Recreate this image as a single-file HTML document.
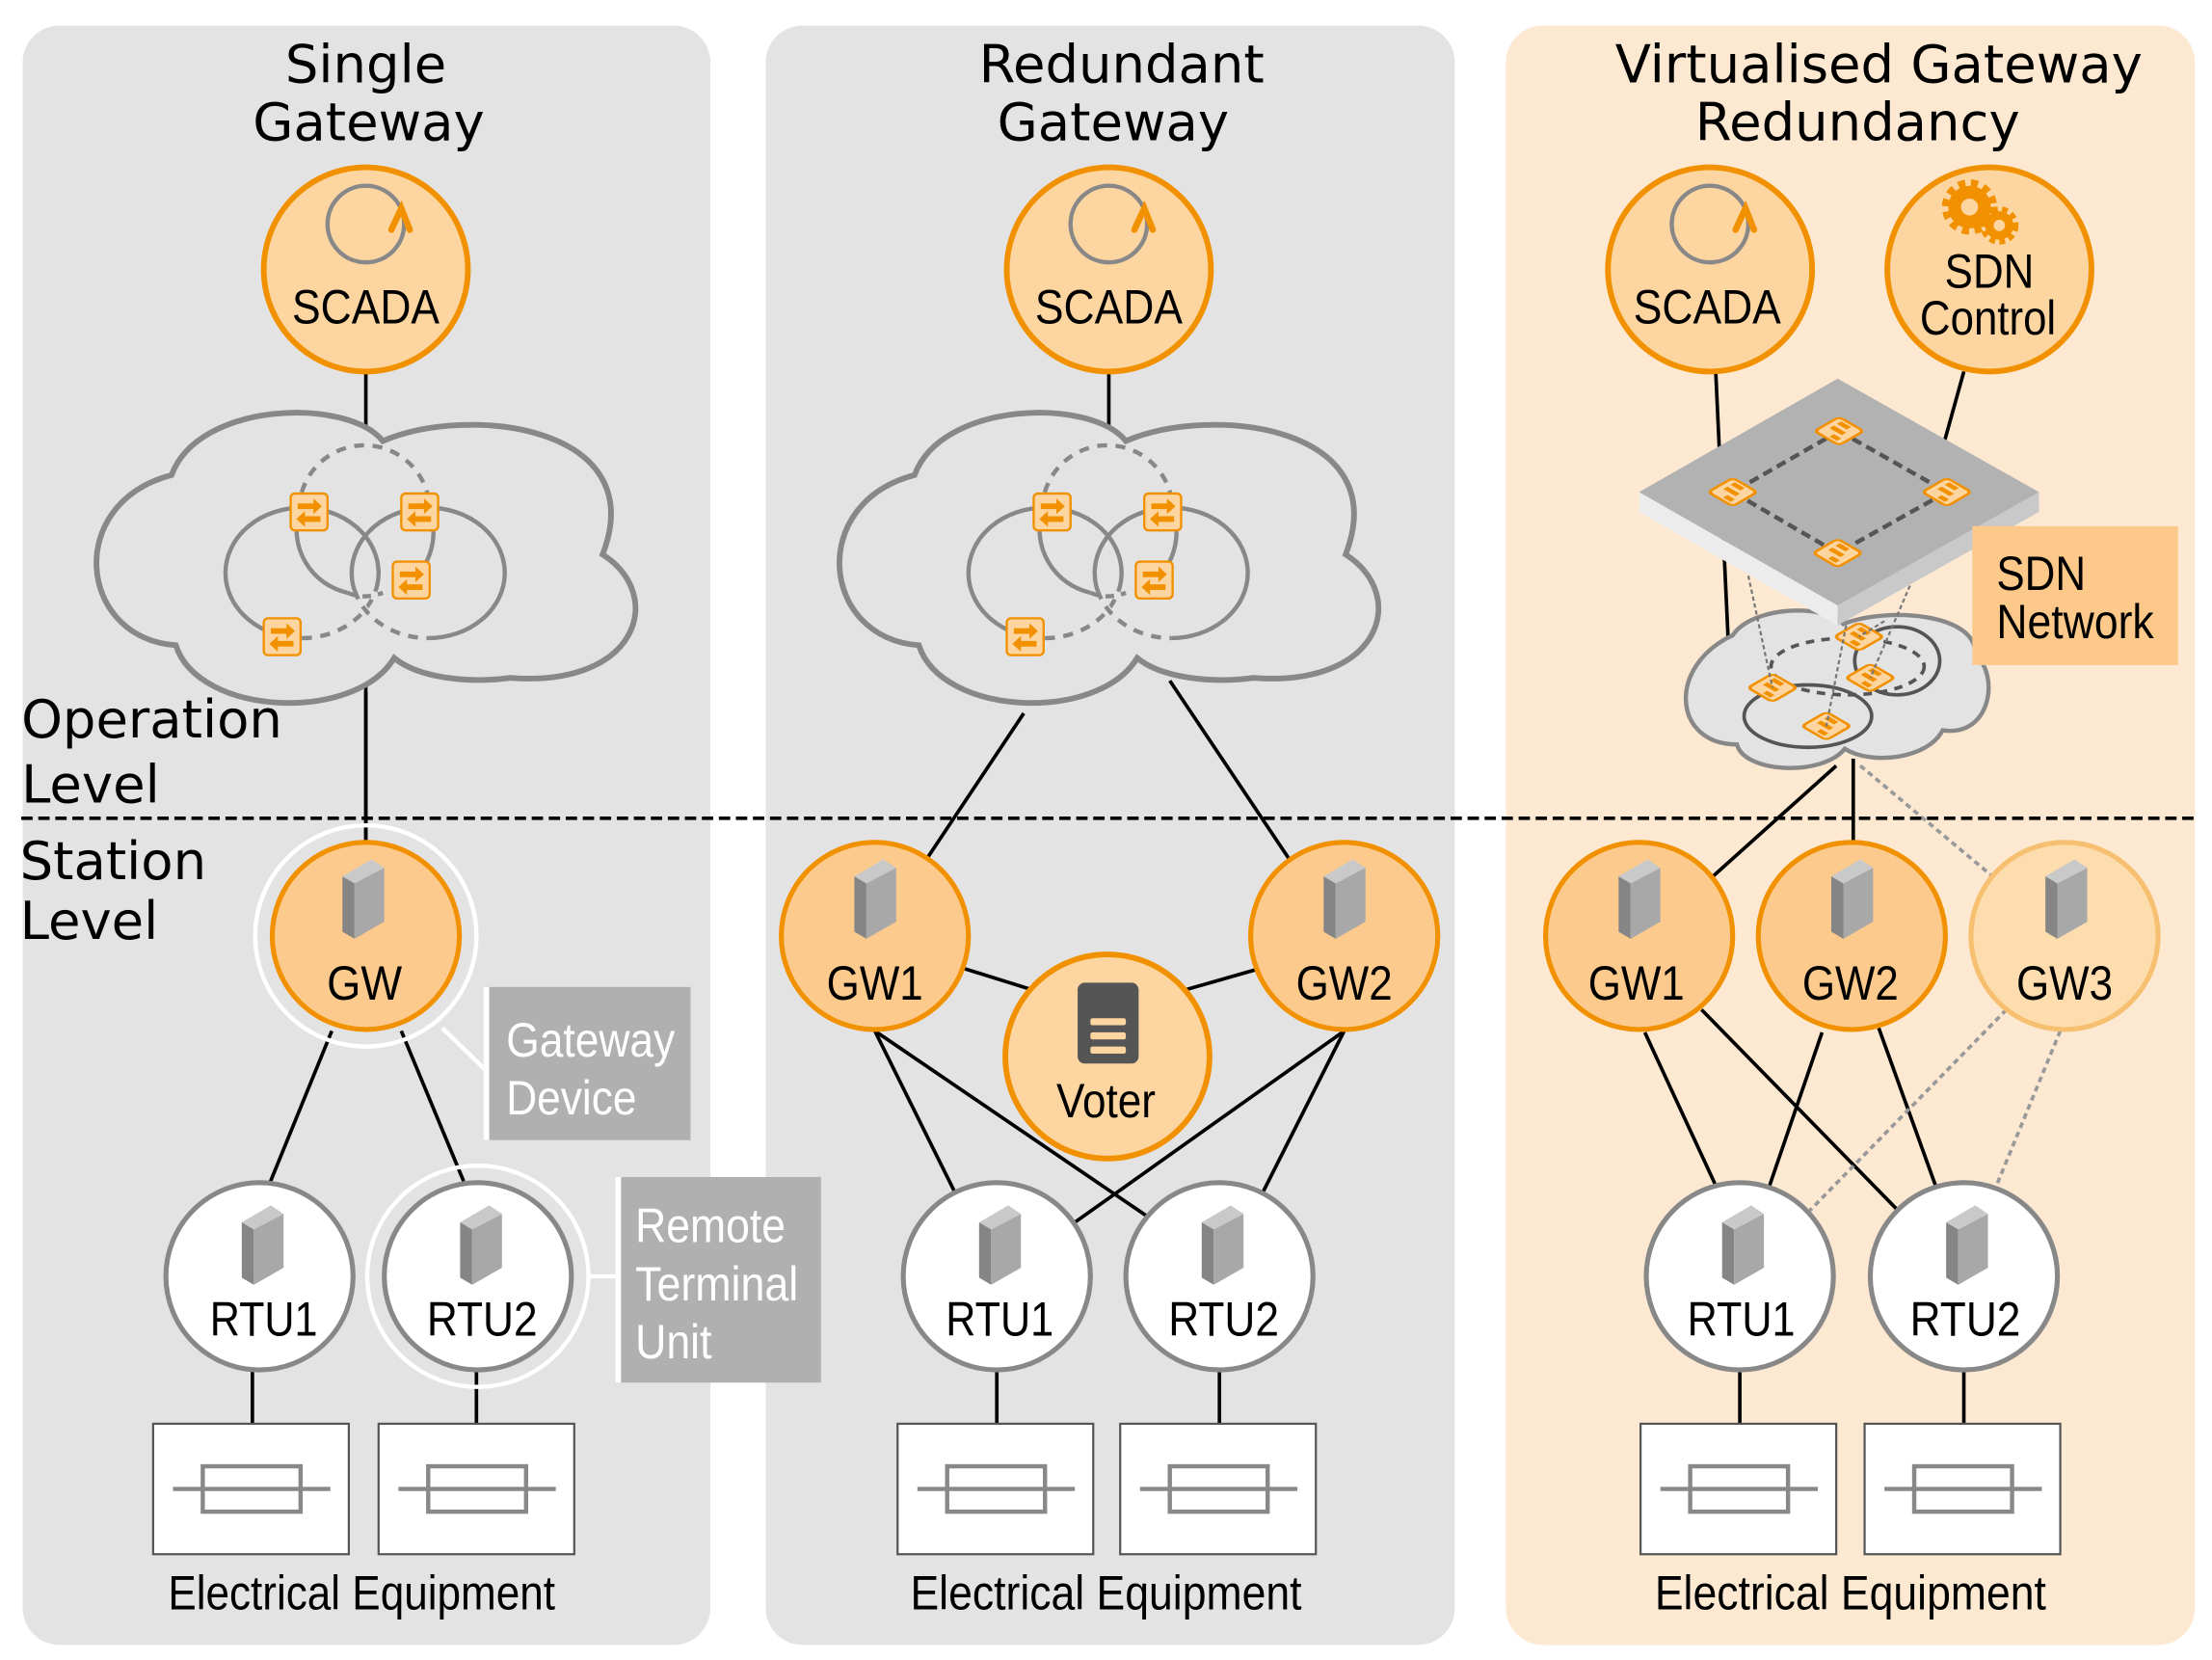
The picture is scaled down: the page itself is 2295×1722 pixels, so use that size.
<!DOCTYPE html>
<html><head><meta charset="utf-8">
<style>
html,body{margin:0;padding:0;background:#fff;}
svg{display:block;}
.t{font-family:"DejaVu Sans","Liberation Sans",sans-serif;font-size:37px;fill:#000;}
.n{font-family:"Liberation Sans Narrow","Liberation Sans",sans-serif;font-size:34px;fill:#000;}
.w{font-family:"Liberation Sans Narrow","Liberation Sans",sans-serif;font-size:34px;fill:#fff;}
</style></head><body>
<svg width="2295" height="1722" viewBox="0 0 1560 1170.6" preserveAspectRatio="none" xmlns="http://www.w3.org/2000/svg">
<defs>
  <g id="srv">
    <polygon points="-14.5,-16 6,-28 15,-22 -6,-11" fill="#c9c9c9"/>
    <polygon points="-14.5,-16 -6,-11 -6,28 -14.5,23" fill="#858585"/>
    <polygon points="-6,-11 15,-22 15,16 -6,28" fill="#a8a8a8"/>
  </g>
  <g id="sw">
    <rect x="-13" y="-13" width="26" height="26" rx="3" fill="#fdd5a0" stroke="#f29100" stroke-width="1.6"/>
    <path d="M-8,-6 H3 V-9.5 L9,-4 L3,1.5 V-2 H-8 Z" fill="#f29100"/>
    <path d="M8,3 H-3 V-0.5 L-9,5 L-3,10.5 V7 H8 Z" fill="#f29100"/>
  </g>
  <g id="dsw">
    <g transform="matrix(0.866,0.5,-0.866,0.5,0,0)">
      <rect x="-10" y="-10" width="20" height="20" rx="3" fill="#fdd5a0" stroke="#f29100" stroke-width="2"/>
      <path d="M-6,-6 H2 M-6,0 H4 M0,6 H6" stroke="#f29100" stroke-width="3.5"/>
    </g>
  </g>
  <g id="eq">
    <rect x="0" y="0" width="138" height="92" fill="#fff" stroke="#555" stroke-width="1.5"/>
    <line x1="14" y1="46" x2="125" y2="46" stroke="#888" stroke-width="3"/>
    <rect x="35" y="30" width="69" height="32" fill="none" stroke="#888" stroke-width="3"/>
  </g>
  <g id="scadaicon">
    <circle cx="0" cy="-32" r="27" fill="none" stroke="#888" stroke-width="3"/>
    <path d="M18,-28 L25,-43 L31,-28" fill="none" stroke="#f29100" stroke-width="4.5" stroke-linecap="round"/>
  </g>
  <path id="cloudp" d="M121,335 C140,283 245,280 270,311 C330,285 460,300 425,391 C470,420 450,485 360,478 C330,482 295,478 278,464 C250,510 140,505 124,455 C55,450 45,355 121,335 Z"/>
  <g id="cloudinner">
    <ellipse cx="213" cy="404" rx="54" ry="46" fill="none" stroke="#888" stroke-width="3"/>
    <path d="M213,450 A54,46 0 0 0 265,416" fill="none" stroke="#e3e3e3" stroke-width="5"/>
    <path d="M213,450 A54,46 0 0 0 265,416" fill="none" stroke="#888" stroke-width="3" stroke-dasharray="7,6"/>
    <ellipse cx="302" cy="404" rx="54" ry="46" fill="none" stroke="#888" stroke-width="3"/>
    <path d="M250,416 A54,46 0 0 0 302,450" fill="none" stroke="#e3e3e3" stroke-width="5"/>
    <path d="M250,416 A54,46 0 0 0 302,450" fill="none" stroke="#888" stroke-width="3" stroke-dasharray="7,6"/>
    <path d="M211,360 A46,46 0 0 1 303,360" fill="none" stroke="#888" stroke-width="3" stroke-dasharray="7,6"/>
    <path d="M211,360 A46,46 0 0 0 245,418" fill="none" stroke="#888" stroke-width="3"/>
    <path d="M303,360 A46,46 0 0 1 290,410" fill="none" stroke="#888" stroke-width="3"/>
    <path d="M245,418 Q257,423 270,418" fill="none" stroke="#888" stroke-width="3" stroke-dasharray="6,5"/>
    <use href="#sw" x="218" y="361"/>
    <use href="#sw" x="296" y="361"/>
    <use href="#sw" x="290" y="409"/>
    <use href="#sw" x="199" y="449"/>
  </g>
</defs>

<rect x="16" y="18" width="485" height="1142" rx="26" fill="#e3e3e3"/>
<rect x="540" y="18" width="486" height="1142" rx="26" fill="#e3e3e3"/>
<rect x="1062" y="18" width="486" height="1142" rx="26" fill="#fde9d2"/>

<text class="t" x="258" y="58" text-anchor="middle">Single</text>
<text class="t" x="260" y="99" text-anchor="middle">Gateway</text>
<text class="t" x="791" y="58" text-anchor="middle">Redundant</text>
<text class="t" x="785" y="99" text-anchor="middle">Gateway</text>
<text class="t" x="1325" y="58" text-anchor="middle">Virtualised Gateway</text>
<text class="t" x="1310" y="99" text-anchor="middle">Redundancy</text>

<text class="t" x="15" y="520">Operation</text>
<text class="t" x="15" y="566">Level</text>
<text class="t" x="14" y="620">Station</text>
<text class="t" x="14" y="662">Level</text>

<!-- Panel 1 -->
<line x1="258" y1="262" x2="258" y2="600" stroke="#000" stroke-width="2.5"/>
<use href="#cloudp" fill="#e3e3e3" stroke="#888" stroke-width="4"/>
<use href="#cloudinner"/>
<line x1="258" y1="488" x2="258" y2="600" stroke="#000" stroke-width="2.5"/>

<circle cx="258" cy="190" r="72" fill="#fdd5a0" stroke="#f29100" stroke-width="4"/>
<use href="#scadaicon" x="258" y="190"/>
<text class="n" x="258" y="228" text-anchor="middle" textLength="104" lengthAdjust="spacingAndGlyphs">SCADA</text>

<line x1="234" y1="727" x2="190" y2="835" stroke="#000" stroke-width="2.5"/>
<line x1="283" y1="727" x2="327" y2="833" stroke="#000" stroke-width="2.5"/>
<line x1="178" y1="966" x2="178" y2="1008" stroke="#000" stroke-width="2.5"/>
<line x1="336" y1="966" x2="336" y2="1008" stroke="#000" stroke-width="2.5"/>

<circle cx="258" cy="660" r="78" fill="none" stroke="#fff" stroke-width="3"/>
<line x1="312" y1="725" x2="344" y2="756" stroke="#fff" stroke-width="3"/>
<circle cx="258" cy="660" r="66" fill="#fcca8c" stroke="#f29100" stroke-width="3.5"/>
<use href="#srv" x="256" y="634"/>
<text class="n" x="257" y="705" text-anchor="middle" textLength="53" lengthAdjust="spacingAndGlyphs">GW</text>
<rect x="341" y="696" width="146" height="108" fill="#b0b0b0"/>
<rect x="341" y="696" width="4" height="108" fill="#fff"/>
<text class="w" x="357" y="745" textLength="119" lengthAdjust="spacingAndGlyphs">Gateway</text>
<text class="w" x="357" y="786" textLength="92" lengthAdjust="spacingAndGlyphs">Device</text>

<circle cx="183" cy="900" r="66" fill="#fff" stroke="#888" stroke-width="3.5"/>
<use href="#srv" x="185" y="878"/>
<text class="n" x="186" y="942" text-anchor="middle" textLength="76" lengthAdjust="spacingAndGlyphs">RTU1</text>
<circle cx="337" cy="900" r="78" fill="none" stroke="#fff" stroke-width="3"/>
<line x1="414" y1="900" x2="436" y2="900" stroke="#fff" stroke-width="3"/>
<circle cx="337" cy="900" r="66" fill="#fff" stroke="#888" stroke-width="3.5"/>
<use href="#srv" x="339" y="878"/>
<text class="n" x="340" y="942" text-anchor="middle" textLength="78" lengthAdjust="spacingAndGlyphs">RTU2</text>
<rect x="434" y="830" width="145" height="145" fill="#b0b0b0"/>
<rect x="434" y="830" width="4" height="145" fill="#fff"/>
<text class="w" x="448" y="876" textLength="106" lengthAdjust="spacingAndGlyphs">Remote</text>
<text class="w" x="448" y="917" textLength="115" lengthAdjust="spacingAndGlyphs">Terminal</text>
<text class="w" x="448" y="958" textLength="54" lengthAdjust="spacingAndGlyphs">Unit</text>

<use href="#eq" x="108" y="1004"/>
<use href="#eq" x="267" y="1004"/>
<text class="n" x="255" y="1135" text-anchor="middle" textLength="273" lengthAdjust="spacingAndGlyphs">Electrical Equipment</text>

<!-- Panel 2 -->
<line x1="782" y1="262" x2="782" y2="310" stroke="#000" stroke-width="2.5"/>
<g transform="translate(524,0)">
  <use href="#cloudp" fill="#e3e3e3" stroke="#888" stroke-width="4"/>
  <use href="#cloudinner"/>
</g>
<circle cx="782" cy="190" r="72" fill="#fdd5a0" stroke="#f29100" stroke-width="4"/>
<use href="#scadaicon" x="782" y="190"/>
<text class="n" x="782" y="228" text-anchor="middle" textLength="104" lengthAdjust="spacingAndGlyphs">SCADA</text>

<line x1="722" y1="503" x2="654" y2="605" stroke="#000" stroke-width="2.5"/>
<line x1="825" y1="480" x2="910" y2="607" stroke="#000" stroke-width="2.5"/>
<line x1="680" y1="683" x2="728" y2="698" stroke="#000" stroke-width="2.5"/>
<line x1="836" y1="698" x2="885" y2="684" stroke="#000" stroke-width="2.5"/>
<line x1="617" y1="727" x2="674" y2="842" stroke="#000" stroke-width="2.5"/>
<line x1="617" y1="727" x2="808" y2="857" stroke="#000" stroke-width="2.5"/>
<line x1="948" y1="727" x2="758" y2="862" stroke="#000" stroke-width="2.5"/>
<line x1="948" y1="727" x2="890" y2="842" stroke="#000" stroke-width="2.5"/>
<line x1="703" y1="966" x2="703" y2="1008" stroke="#000" stroke-width="2.5"/>
<line x1="860" y1="966" x2="860" y2="1008" stroke="#000" stroke-width="2.5"/>

<circle cx="617" cy="660" r="66" fill="#fcca8c" stroke="#f29100" stroke-width="3.5"/>
<use href="#srv" x="617" y="634"/>
<text class="n" x="617" y="705" text-anchor="middle" textLength="68" lengthAdjust="spacingAndGlyphs">GW1</text>
<circle cx="948" cy="660" r="66" fill="#fcca8c" stroke="#f29100" stroke-width="3.5"/>
<use href="#srv" x="948" y="634"/>
<text class="n" x="948" y="705" text-anchor="middle" textLength="68" lengthAdjust="spacingAndGlyphs">GW2</text>
<circle cx="781" cy="745" r="72" fill="#fdd5a0" stroke="#f29100" stroke-width="4"/>
<rect x="760" y="693" width="43" height="57" rx="5" fill="#555"/>
<rect x="769" y="718" width="25" height="5" rx="1.5" fill="#fdd5a0"/>
<rect x="769" y="728" width="25" height="5" rx="1.5" fill="#fdd5a0"/>
<rect x="769" y="738" width="25" height="5" rx="1.5" fill="#fdd5a0"/>
<text class="n" x="780" y="788" text-anchor="middle" textLength="70" lengthAdjust="spacingAndGlyphs">Voter</text>

<circle cx="703" cy="900" r="66" fill="#fff" stroke="#888" stroke-width="3.5"/>
<use href="#srv" x="705" y="878"/>
<text class="n" x="705" y="942" text-anchor="middle" textLength="76" lengthAdjust="spacingAndGlyphs">RTU1</text>
<circle cx="860" cy="900" r="66" fill="#fff" stroke="#888" stroke-width="3.5"/>
<use href="#srv" x="862" y="878"/>
<text class="n" x="863" y="942" text-anchor="middle" textLength="78" lengthAdjust="spacingAndGlyphs">RTU2</text>
<use href="#eq" x="633" y="1004"/>
<use href="#eq" x="790" y="1004"/>
<text class="n" x="780" y="1135" text-anchor="middle" textLength="276" lengthAdjust="spacingAndGlyphs">Electrical Equipment</text>

<!-- Panel 3 -->
<line x1="1210" y1="262" x2="1219" y2="456" stroke="#000" stroke-width="2.5"/>
<line x1="1385" y1="262" x2="1370" y2="316" stroke="#000" stroke-width="2.5"/>

<path d="M1222,448 C1235,428 1285,425 1300,440 C1330,428 1395,432 1393,462 C1410,475 1405,520 1370,515 C1360,535 1320,540 1301,528 C1285,548 1230,545 1225,525 C1180,525 1175,470 1222,448 Z" fill="#e3e3e3" stroke="#888" stroke-width="3"/>
<ellipse cx="1275" cy="505" rx="45" ry="22" fill="none" stroke="#555" stroke-width="2.5"/>
<ellipse cx="1338" cy="466" rx="30" ry="24" fill="none" stroke="#555" stroke-width="2.5"/>
<ellipse cx="1303" cy="470" rx="54" ry="20" fill="none" stroke="#555" stroke-width="2.5" stroke-dasharray="6,5"/>
<use href="#dsw" x="1250" y="485"/>
<use href="#dsw" x="1311" y="449"/>
<use href="#dsw" x="1319" y="478"/>
<use href="#dsw" x="1288" y="512"/>

<polygon points="1156,347 1296,427 1296,441 1156,361" fill="#ececec"/>
<polygon points="1296,427 1438,347 1438,361 1296,441" fill="#c9c9c9"/>
<polygon points="1296,267 1438,347 1296,427 1156,347" fill="#b2b2b2"/>
<polygon points="1297,304 1373,347 1296,390 1222,347" fill="none" stroke="#555" stroke-width="3" stroke-dasharray="7,4"/>
<use href="#dsw" x="1297" y="304"/>
<use href="#dsw" x="1222" y="347"/>
<use href="#dsw" x="1373" y="347"/>
<use href="#dsw" x="1296" y="390"/>

<g stroke="#777" stroke-width="1.5" stroke-dasharray="3,2" fill="none">
  <line x1="1233" y1="406" x2="1250" y2="485"/>
  <line x1="1347" y1="413" x2="1319" y2="478"/>
  <line x1="1302" y1="441" x2="1288" y2="512"/>
  <line x1="1329" y1="438" x2="1311" y2="449"/>
</g>

<rect x="1391" y="371" width="145" height="98" fill="#fcc98a"/>
<text class="n" x="1408" y="416" textLength="63" lengthAdjust="spacingAndGlyphs">SDN</text>
<text class="n" x="1408" y="450" textLength="111" lengthAdjust="spacingAndGlyphs">Network</text>

<circle cx="1206" cy="190" r="72" fill="#fdd5a0" stroke="#f29100" stroke-width="4"/>
<use href="#scadaicon" x="1206" y="190"/>
<text class="n" x="1204" y="228" text-anchor="middle" textLength="104" lengthAdjust="spacingAndGlyphs">SCADA</text>

<circle cx="1403" cy="190" r="72" fill="#fdd5a0" stroke="#f29100" stroke-width="4"/>
<circle cx="1389" cy="146" r="15" fill="#f29100"/>
<circle cx="1389" cy="146" r="17" fill="none" stroke="#f29100" stroke-width="5" stroke-dasharray="5,4"/>
<circle cx="1389" cy="146" r="6" fill="#fdd5a0"/>
<circle cx="1410" cy="159" r="10" fill="#f29100"/>
<circle cx="1410" cy="159" r="11.5" fill="none" stroke="#f29100" stroke-width="4" stroke-dasharray="4,3"/>
<circle cx="1410" cy="159" r="4" fill="#fdd5a0"/>
<text class="n" x="1403" y="203" text-anchor="middle" textLength="63" lengthAdjust="spacingAndGlyphs">SDN</text>
<text class="n" x="1402" y="236" text-anchor="middle" textLength="96" lengthAdjust="spacingAndGlyphs">Control</text>

<line x1="1295" y1="540" x2="1208" y2="618" stroke="#000" stroke-width="2.5"/>
<line x1="1307" y1="535" x2="1307" y2="595" stroke="#000" stroke-width="2.5"/>
<line x1="1312" y1="540" x2="1410" y2="622" stroke="#999" stroke-width="2.5" stroke-dasharray="4,3"/>

<line x1="1160" y1="728" x2="1210" y2="836" stroke="#000" stroke-width="2.5"/>
<line x1="1200" y1="712" x2="1338" y2="853" stroke="#000" stroke-width="2.5"/>
<line x1="1285" y1="728" x2="1248" y2="836" stroke="#000" stroke-width="2.5"/>
<line x1="1325" y1="725" x2="1365" y2="836" stroke="#000" stroke-width="2.5"/>
<line x1="1415" y1="712" x2="1275" y2="855" stroke="#999" stroke-width="2.5" stroke-dasharray="4,3"/>
<line x1="1453" y1="727" x2="1408" y2="836" stroke="#999" stroke-width="2.5" stroke-dasharray="4,3"/>
<line x1="1227" y1="966" x2="1227" y2="1008" stroke="#000" stroke-width="2.5"/>
<line x1="1385" y1="966" x2="1385" y2="1008" stroke="#000" stroke-width="2.5"/>

<circle cx="1156" cy="660" r="66" fill="#fcca8c" stroke="#f29100" stroke-width="3.5"/>
<use href="#srv" x="1156" y="634"/>
<text class="n" x="1154" y="705" text-anchor="middle" textLength="68" lengthAdjust="spacingAndGlyphs">GW1</text>
<circle cx="1306" cy="660" r="66" fill="#fcca8c" stroke="#f29100" stroke-width="3.5"/>
<use href="#srv" x="1306" y="634"/>
<text class="n" x="1305" y="705" text-anchor="middle" textLength="68" lengthAdjust="spacingAndGlyphs">GW2</text>
<circle cx="1456" cy="660" r="66" fill="#fddcae" stroke="#f7bf70" stroke-width="3.5"/>
<use href="#srv" x="1457" y="634"/>
<text class="n" x="1456" y="705" text-anchor="middle" textLength="68" lengthAdjust="spacingAndGlyphs">GW3</text>

<circle cx="1227" cy="900" r="66" fill="#fff" stroke="#888" stroke-width="3.5"/>
<use href="#srv" x="1229" y="878"/>
<text class="n" x="1228" y="942" text-anchor="middle" textLength="76" lengthAdjust="spacingAndGlyphs">RTU1</text>
<circle cx="1385" cy="900" r="66" fill="#fff" stroke="#888" stroke-width="3.5"/>
<use href="#srv" x="1387" y="878"/>
<text class="n" x="1386" y="942" text-anchor="middle" textLength="78" lengthAdjust="spacingAndGlyphs">RTU2</text>
<use href="#eq" x="1157" y="1004"/>
<use href="#eq" x="1315" y="1004"/>
<text class="n" x="1305" y="1135" text-anchor="middle" textLength="276" lengthAdjust="spacingAndGlyphs">Electrical Equipment</text>

<line x1="15" y1="577" x2="1550" y2="577" stroke="#000" stroke-width="2.5" stroke-dasharray="8,4"/>
</svg>
</body></html>
